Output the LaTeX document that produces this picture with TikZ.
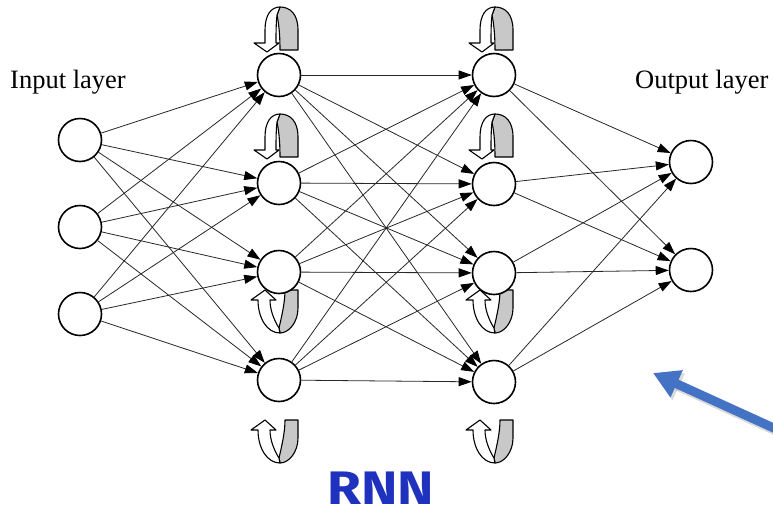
\documentclass[tikz,border=0pt]{standalone}
\usepackage{fontspec}
\setmainfont{Liberation Serif}
\newfontfamily\rnnfont{Fira Sans}
\usetikzlibrary{arrows.meta}

\definecolor{loopgrey}{RGB}{200,200,200}
\definecolor{edgegrey}{RGB}{40,40,40}
\definecolor{rnnblue}{RGB}{30,50,190}
\definecolor{pointerblue}{RGB}{68,114,196}

\pgfdeclarelayer{back}
\pgfsetlayers{back,main}

\tikzset{
  neuron/.style={circle, draw=black, line width=1.6pt, fill=white,
    minimum size=43pt, inner sep=0pt},
  link/.style={draw=edgegrey, line width=0.8pt,
    -{Triangle[length=13pt,width=9pt,color=black]}},
  layerlabel/.style={font=\fontsize{26.5}{30}\selectfont, anchor=base west,
    inner sep=0pt},
  loopface/.style={draw=black, line width=1.1pt, line join=round},
  % recurrent self-loop sitting above a neuron (origin = leg ends)
  pics/loopabove/.style={code={
    \filldraw[loopface, fill=loopgrey]
      (1,-2) -- (19,-2) -- (19,-22) .. controls (19,-38) and (11,-45) .. (1,-45)
      -- (-2,-37) .. controls (0.5,-25) and (1,-12) .. (1,-2) -- cycle;
    \filldraw[loopface, fill=white]
      (1,-45) -- (-2,-37) .. controls (-3,-28) and (-3,-18) .. (-3,-9)
      -- (0,-9) -- (-12,0) -- (-25,-9) -- (-14,-9) -- (-14,-22)
      .. controls (-14,-37) and (-8,-45) .. (1,-45) -- cycle;
  }},
  % recurrent self-loop hanging below a neuron (origin = leg ends)
  pics/loopbelow/.style={code={
    \filldraw[loopface, fill=loopgrey]
      (6,0) -- (19,0) -- (19,18) .. controls (19,32) and (10,43) .. (1,43)
      -- (0,38) .. controls (3,25) and (6,12) .. (6,0) -- cycle;
    \filldraw[loopface, fill=white]
      (-9,10) -- (-3,10) -- (-14,0) -- (-28,10) -- (-21,10)
      .. controls (-21,28) and (-12,43) .. (1,43) -- (0,38)
      .. controls (-5,30) and (-9,20) .. (-9,10) -- cycle;
  }},
  pointer/.style={draw=pointerblue, line width=9pt,
    -{Triangle[length=26pt,width=28pt]}},
}

\begin{document}
\begin{tikzpicture}[x=1pt, y=-1pt]
  \useasboundingbox (0,0) rectangle (773,512);

  % neurons
  \node[neuron] (i1) at (80,140) {};
  \node[neuron] (i2) at (80,227) {};
  \node[neuron] (i3) at (80,314) {};

  \node[neuron] (a1) at (279,75) {};
  \node[neuron] (a2) at (279,183) {};
  \node[neuron] (a3) at (279,272) {};
  \node[neuron] (a4) at (279,380) {};

  \node[neuron] (b1) at (494,75) {};
  \node[neuron] (b2) at (494,184) {};
  \node[neuron] (b3) at (494,273) {};
  \node[neuron] (b4) at (494,382) {};

  \node[neuron] (o1) at (691,162) {};
  \node[neuron] (o2) at (691,270) {};

  % layer captions
  \node[layerlabel] (inlab) at (10,88) {Input layer};
  \node[layerlabel] (outlab) at (635,88) {Output layer};

  % full connections between consecutive layers
  \foreach \s in {i1,i2,i3}
    \foreach \t in {a1,a2,a3,a4}
      \draw[link] (\s) -- (\t);
  \foreach \s in {a1,a2,a3,a4}
    \foreach \t in {b1,b2,b3,b4}
      \draw[link] (\s) -- (\t);
  \foreach \s in {b1,b2,b3,b4}
    \foreach \t in {o1,o2}
      \draw[link] (\s) -- (\t);

  % page background and recurrent loops, behind everything else
  \begin{pgfonlayer}{back}
    \fill[white] (0,0) rectangle (773,512);
    \foreach \x in {279,494} {
      \pic at (\x,52) {loopabove};
      \pic at (\x,159) {loopabove};
      \pic at (\x,290) {loopbelow};
      \pic at (\x,420) {loopbelow};
    }
  \end{pgfonlayer}

  % title
  \node[font=\rnnfont\bfseries\fontsize{47}{47}\selectfont, text=rnnblue,
        anchor=base, inner sep=0pt, xscale=1.17] (rnn) at (381,504) {RNN};

  % blue pointer
  \coordinate (ptrTail) at (800,440);
  \coordinate (ptrTip) at (653,373);
  \coordinate (shTail) at (802,443);
  \coordinate (shTip) at (655,376);
  \begin{scope}
    \clip (0,0) rectangle (773,512);
    \draw[pointer, draw=black, opacity=0.15] (shTail) -- (shTip);
    \draw[pointer] (ptrTail) -- (ptrTip);
  \end{scope}
\end{tikzpicture}
\end{document}
